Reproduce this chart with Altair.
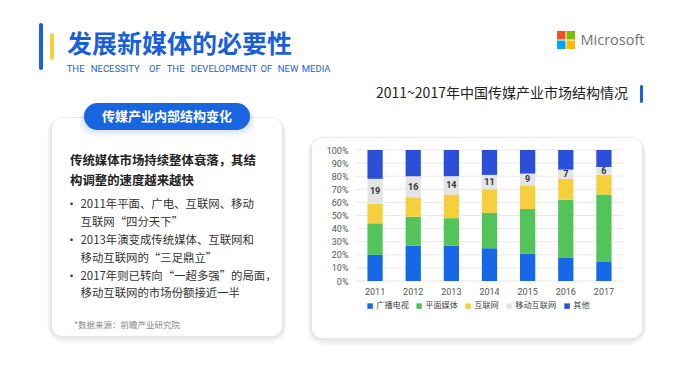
import altair as alt
import pandas as pd

# ---------------- data ----------------
years = ['2011', '2012', '2013', '2014', '2015', '2016', '2017']
categories = ['广播电视', '平面媒体', '互联网', '移动互联网', '其他']
broadcast = [20, 27, 27, 25, 21, 18, 15]
print_media = [24, 22, 21, 27, 34, 44, 51]
internet = [15, 15, 18, 18, 18, 16, 15]
mobile = [19, 16, 14, 11, 9, 7, 6]
others = [22, 20, 20, 19, 18, 15, 13]
y_ticks = [0, 10, 20, 30, 40, 50, 60, 70, 80, 90, 100]
colors = ['#1668e6', '#52c45a', '#f6d03c', '#e4e4e4', '#2a4fd8']

series = [broadcast, print_media, internet, mobile, others]
rows = []
for ci, (cat, vals) in enumerate(zip(categories, series)):
    for yr, v in zip(years, vals):
        rows.append({'year': yr, 'cat': cat, 'value': v, 'ord': ci})
df = pd.DataFrame(rows)

lab = pd.DataFrame({
    'year': years,
    'label': mobile,
    'mid': [b + p + i + m / 2 for b, p, i, m in zip(broadcast, print_media, internet, mobile)],
})
grid_df = pd.DataFrame({'v': y_ticks})

# ---------------- layout helpers ----------------
OX, OY = 356, 150   # page position of the plot area's top-left corner
W, H = 267, 131
CJK = 'Noto Sans CJK SC'
one = pd.DataFrame({'a': [0]})


def rect(x1, y1, x2, y2, color, r=0, opacity=1.0):
    return alt.Chart(one).mark_rect(color=color, cornerRadius=r, opacity=opacity).encode(
        x=alt.value(x1 - OX), x2=alt.value(x2 - OX),
        y=alt.value(y1 - OY), y2=alt.value(y2 - OY))


def text(s, x, y, size, color, weight='normal', align='left', font=CJK, baseline='middle'):
    return alt.Chart(one).mark_text(text=s, fontSize=size, color=color, fontWeight=weight,
                                    align=align, baseline=baseline, font=font).encode(
        x=alt.value(x - OX), y=alt.value(y - OY))


def card(x1, y1, x2, y2, r):
    out = []
    for i in range(7, 0, -1):
        out.append(rect(x1 - i * 0.7, y1 - i * 0.2, x2 + i * 0.7, y2 + i * 1.1, '#000000', r + i, 0.016))
    out.append(rect(x1, y1, x2, y2, '#ffffff', r))
    return out


layers = []

# header accent bars
layers.append(rect(39, 23, 43, 70, '#1a5fe0', 2))
layers.append(rect(50, 33, 54, 60, '#f7cf3b', 2))
layers.append(text('发展新媒体的必要性', 67, 45, 25, '#1a5fd8', weight='bold'))
sub_words = [('THE', 66.7), ('NECESSITY', 90.7), ('OF', 149), ('THE', 166.7),
             ('DEVELOPMENT', 190.7), ('OF', 260.5), ('NEW', 277.7), ('MEDIA', 301.7)]
for w, xx in sub_words:
    layers.append(text(w, xx, 68.5, 9.5, '#1a5fd8', font='Roboto'))

# Microsoft logo
layers.append(rect(557, 31, 565.5, 39.5, '#f25022'))
layers.append(rect(566.5, 31, 575, 39.5, '#7fba00'))
layers.append(rect(557, 40.5, 565.5, 49, '#00a4ef'))
layers.append(rect(566.5, 40.5, 575, 49, '#ffb900'))
layers.append(text('Microsoft', 580.5, 40.5, 14.5, '#737373', font='Open Sans'))

# chart title
layers.append(text('2011~2017年中国传媒产业市场结构情况', 376, 94, 14, '#222222'))
layers.append(rect(640, 85, 643, 103, '#1a62e0', 1.5))

# cards
layers += card(52, 118, 282, 336, 10)
layers += card(312, 138, 642, 338, 10)

# pill
for i in range(5, 0, -1):
    layers.append(rect(84 - i, 103 + i * 0.6, 250 + i, 130 + i * 1.4, '#1766e0', 14 + i, 0.03))
layers.append(rect(84, 103, 250, 130, '#1766e0', 13.5))
layers.append(text('传媒产业内部结构变化', 167, 116.5, 13, '#ffffff', weight='bold', align='center'))

# left card text
layers.append(text('传统媒体市场持续整体衰落，其结', 70, 161, 12.4, '#222222', weight='bold'))
layers.append(text('构调整的速度越来越快', 70, 181, 12.4, '#222222', weight='bold'))
bullet_lines = [
    ('2011年平面、广电、互联网、移动', 205, True),
    ('互联网“四分天下”', 223, False),
    ('2013年演变成传统媒体、互联网和', 241, True),
    ('移动互联网的“三足鼎立”', 258.5, False),
    ('2017年则已转向“一超多强”的局面，', 276.5, True),
    ('移动互联网的市场份额接近一半', 293.5, False),
]
for s, yy, dot in bullet_lines:
    if dot:
        layers.append(text('•', 71.5, yy, 12, '#333333', align='center'))
    layers.append(text(s, 80.5, yy, 11.4, '#333333'))
layers.append(text('*数据来源：前瞻产业研究院', 74, 325, 8.5, '#888888'))

# ---------------- chart ----------------
yaxis = alt.Axis(values=y_ticks, labelExpr="datum.value + '%'", domain=False,
                 ticks=False, grid=False, labelFontSize=9, labelColor='#555555',
                 labelPadding=8, labelFont='Roboto', zindex=1, labelOverlap=False,
                 title=None)
yscale = alt.Scale(domain=[0, 100])

grid = alt.Chart(grid_df).mark_rule(color='#e9e9e9', strokeWidth=1).encode(
    y=alt.Y('v:Q', scale=yscale, axis=yaxis, title=None))

xenc = alt.X('year:N', title=None, sort=years,
             scale=alt.Scale(paddingInner=0.6, paddingOuter=0.3),
             axis=alt.Axis(labelAngle=0, domain=False, ticks=False, labelFontSize=9,
                           labelColor='#555555', labelPadding=6, labelFont='Roboto',
                           grid=False, zindex=1))
yenc = alt.Y('value:Q', stack='zero', title=None, scale=yscale, axis=yaxis)

bars = alt.Chart(df).mark_bar().encode(
    x=xenc, y=yenc,
    color=alt.Color('cat:N', scale=alt.Scale(domain=categories, range=colors),
                    legend=alt.Legend(orient='none', legendX=10, legendY=152,
                                      direction='horizontal', title=None,
                                      symbolType='square', symbolSize=30,
                                      symbolStrokeWidth=0, labelFontSize=8.2,
                                      labelFont=CJK, labelColor='#444444',
                                      columnPadding=6, labelOffset=2,
                                      gridAlign='none')),
    order=alt.Order('ord:Q', sort='ascending'))

labels = alt.Chart(lab).mark_text(fontWeight='bold', fontSize=9, color='#333333',
                                  font='Roboto').encode(
    x=alt.X('year:N', sort=years, title=None),
    y=alt.Y('mid:Q', scale=yscale, axis=yaxis, title=None),
    text='label:Q')

layers += [grid, bars, labels]

chart = alt.layer(*layers).properties(
    width=W, height=H,
    padding={'left': OX - 8, 'top': OY - 8, 'right': 664 - (OX - 8) - W, 'bottom': 367 - (OY - 8) - H},
    autosize=alt.AutoSizeParams(type='none'),
    background='#ffffff',
).configure_view(stroke=None)

chart.save('out.html', embed_options={'renderer': 'svg', 'actions': False})
